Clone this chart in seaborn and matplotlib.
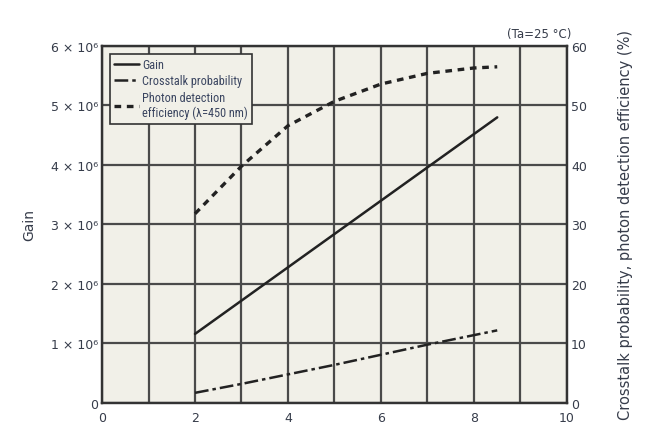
import numpy as np
import pandas as pd
import matplotlib
matplotlib.use("Agg")
import matplotlib.pyplot as plt
import matplotlib.ticker as mticker
import seaborn as sns

# Overvoltage (V)
overvoltage = [2, 3, 4, 5, 6, 7, 8, 8.5]
# Gain (x 10^6)
gain_e6 = [1.16, 1.72, 2.28, 2.84, 3.40, 3.96, 4.52, 4.80]
# Crosstalk probability (%)
crosstalk = [1.7, 3.2, 4.8, 6.4, 8.1, 9.8, 11.4, 12.2]
# Photon detection efficiency at 450 nm (%)
pde = [31.8, 39.8, 46.6, 50.7, 53.6, 55.4, 56.3, 56.5]

x_ticks = [0, 2, 4, 6, 8, 10]
gain_ticks_e6 = [0, 1, 2, 3, 4, 5, 6]
pct_ticks = [0, 10, 20, 30, 40, 50, 60]

bg = "#f1f0e8"
grid_c = "#4a4a4a"
ink = "#222222"
txt = "#363c4a"

sns.set_theme(style="white", rc={"axes.facecolor": bg})
plt.rcParams["font.family"] = ["DejaVu Sans"]

df_gain = pd.DataFrame({"V": overvoltage, "Gain": np.array(gain_e6) * 1e6})
df_ct = pd.DataFrame({"V": overvoltage, "CT": crosstalk})
df_pde = pd.DataFrame({"V": overvoltage, "PDE": pde})

fig = plt.figure(figsize=(6.56, 4.27), dpi=100)
ax = fig.add_axes([0.1555, 0.054, 0.7088, 0.836])
ax2 = ax.twinx()

ax.set_xlim(0, 10)
ax.set_ylim(0, 6e6)
ax2.set_ylim(0, 60)

ax.xaxis.set_major_locator(mticker.FixedLocator(x_ticks))
ax.xaxis.set_minor_locator(mticker.MultipleLocator(1))
ax.set_yticks([v * 1e6 for v in gain_ticks_e6])
ax.set_yticklabels(["0"] + [f"{v} \u00d7 10\u2076" for v in gain_ticks_e6[1:]])
ax2.set_yticks(pct_ticks)

ax.grid(True, which="both", axis="x", color=grid_c, lw=1.6)
ax.grid(True, which="major", axis="y", color=grid_c, lw=1.6)
ax.set_axisbelow(True)
ax2.grid(False)

for a in (ax, ax2):
    a.tick_params(which="both", length=0, labelsize=9, labelcolor=txt, pad=3)
    for s in a.spines.values():
        s.set_color("#333333")
        s.set_linewidth(1.6)
ax.tick_params(axis="x", pad=6)

sns.lineplot(data=df_gain, x="V", y="Gain", ax=ax, color=ink, lw=1.8,
             label="Gain", legend=False)
sns.lineplot(data=df_ct, x="V", y="CT", ax=ax2, color=ink, lw=1.8,
             linestyle=(0, (5.5, 1.6, 1.4, 1.6)),
             label="Crosstalk probability", legend=False)
sns.lineplot(data=df_pde, x="V", y="PDE", ax=ax2, color=ink, lw=2.4,
             linestyle=(0, (2.0, 1.7)),
             label="Photon detection\nefficiency (\u03bb=450 nm)", legend=False)

ax.set_xlabel("")
ax.set_ylabel("Gain", fontsize=10, color=txt, labelpad=10)
ax2.set_ylabel("Crosstalk probability, photon detection efficiency (%)",
               fontsize=10.5, color=txt, labelpad=22)

handles = list(ax.lines) + list(ax2.lines)
leg = ax2.legend(handles=handles, labels=[h.get_label() for h in handles],
                 loc="upper left", bbox_to_anchor=(0.012, 0.985),
                 prop={"family": ["Roboto Condensed", "DejaVu Sans"], "size": 8.8},
                 frameon=True, fancybox=False, framealpha=1,
                 facecolor=bg, edgecolor="#333333", handlelength=2.0,
                 handletextpad=0.25, borderpad=0.35, labelspacing=0.28,
                 borderaxespad=0.2)
leg.get_frame().set_linewidth(1.2)
for t in leg.get_texts():
    t.set_color("#3a4560")

fig.text(0.822, 0.905, "(Ta=25 \u00b0C)", fontsize=8.5, color=txt,
         ha="center", va="bottom")

fig.savefig("out.png", dpi=100, facecolor="white")
